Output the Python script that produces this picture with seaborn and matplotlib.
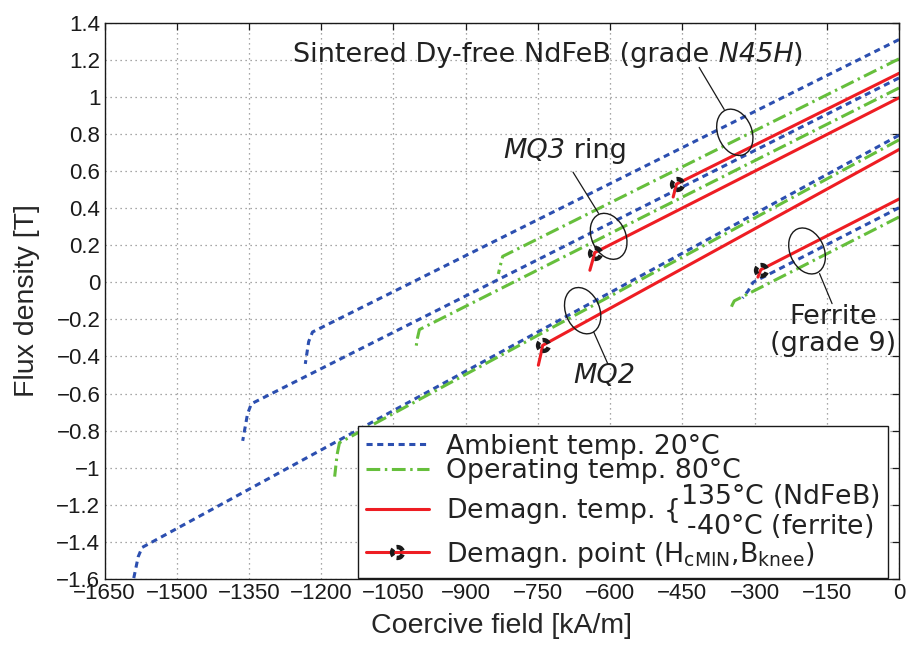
import numpy as np
import pandas as pd
import matplotlib
matplotlib.use("Agg")
import matplotlib.pyplot as plt
import matplotlib.transforms as mtransforms
from matplotlib.path import Path
from matplotlib.patches import Ellipse
from matplotlib.lines import Line2D
from matplotlib.ticker import FuncFormatter
import seaborn as sns

# ---- demagnetisation curves: coercive field H [kA/m], flux density B [T] ----
# Sintered Dy-free NdFeB, grade N45H
n45h_amb_H = [0, -1218, -1226, -1233]
n45h_amb_B = [1.309, -0.268, -0.32, -0.44]
n45h_op_H = [0, -823, -828, -832]
n45h_op_B = [1.205, 0.14, 0.09, 0.045]
n45h_dem_H = [0, -462, -465, -469]
n45h_dem_B = [1.127, 0.53, 0.50, 0.46]

# MQ3 ring
mq3_amb_H = [0, -1345, -1353, -1363]
mq3_amb_B = [1.102, -0.655, -0.71, -0.855]
mq3_op_H = [0, -996, -1000, -1004]
mq3_op_B = [1.048, -0.255, -0.30, -0.366]
mq3_dem_H = [0, -632, -636, -642]
mq3_dem_B = [0.995, 0.16, 0.12, 0.065]

# MQ2
mq2_amb_H = [0, -1572, -1580, -1592]
mq2_amb_B = [0.793, -1.43, -1.48, -1.63]
mq2_op_H = [0, -1162, -1167, -1172]
mq2_op_B = [0.768, -0.865, -0.93, -1.048]
mq2_dem_H = [0, -740, -744, -749]
mq2_dem_B = [0.716, -0.34, -0.39, -0.447]

# Ferrite, grade 9
fer_amb_H = [0, -303, -313, -325]
fer_amb_B = [0.402, 0.0, -0.045, -0.085]
fer_op_H = [0, -342, -346, -350]
fer_op_B = [0.352, -0.10, -0.12, -0.145]
fer_dem_H = [0, -287, -290, -293]
fer_dem_B = [0.449, 0.068, 0.048, 0.028]

# demagnetisation points (H_cMIN, B_knee)
knee_H = [-462, -632, -740, -287]
knee_B = [0.53, 0.16, -0.34, 0.068]

conditions = ["Ambient", "Operating", "Demagn"]
legend_labels = [
    "Ambient temp. 20°C",
    "Operating temp. 80°C",
    r"Demagn. temp. {$\genfrac{}{}{0}{0}{\text{135°C (NdFeB)}}{\text{-40°C (ferrite)}}$",
    r"Demagn. point (H$_{\mathrm{cMIN}}$,B$_{\mathrm{knee}}$)",
]
x_ticks = list(range(-1650, 1, 150))
y_ticks = [-1.6, -1.4, -1.2, -1.0, -0.8, -0.6, -0.4, -0.2, 0.0,
           0.2, 0.4, 0.6, 0.8, 1.0, 1.2, 1.4]

curves = [
    ("N45H", "Ambient", n45h_amb_H, n45h_amb_B),
    ("N45H", "Operating", n45h_op_H, n45h_op_B),
    ("N45H", "Demagn", n45h_dem_H, n45h_dem_B),
    ("MQ3", "Ambient", mq3_amb_H, mq3_amb_B),
    ("MQ3", "Operating", mq3_op_H, mq3_op_B),
    ("MQ3", "Demagn", mq3_dem_H, mq3_dem_B),
    ("MQ2", "Ambient", mq2_amb_H, mq2_amb_B),
    ("MQ2", "Operating", mq2_op_H, mq2_op_B),
    ("MQ2", "Demagn", mq2_dem_H, mq2_dem_B),
    ("Ferrite", "Ambient", fer_amb_H, fer_amb_B),
    ("Ferrite", "Operating", fer_op_H, fer_op_B),
    ("Ferrite", "Demagn", fer_dem_H, fer_dem_B),
]
rows = []
for mat, cond, hs, bs in curves:
    for h, b in zip(hs, bs):
        rows.append({"material": mat, "condition": cond, "H": h, "B": b,
                     "curve": mat + "-" + cond})
df = pd.DataFrame(rows)

BLUE = "#2c4fb0"
GREEN = "#66bf3c"
RED = "#ee1d23"
TXT = "#222222"
palette = {"Ambient": BLUE, "Operating": GREEN, "Demagn": RED}
dashes = {"Ambient": (2.0, 1.5), "Operating": (4.5, 1.5, 0.8, 1.5), "Demagn": ""}
LW = 2.2

sns.set_theme(style="white")
plt.rcParams["font.family"] = ["DejaVu Sans"]
plt.rcParams["mathtext.fontset"] = "dejavusans"

fig = plt.figure(figsize=(9.11, 6.45), dpi=100)
ax = fig.add_axes([104.5 / 911, 66 / 645, 794.5 / 911, 556.3 / 645])

sns.lineplot(data=df, x="H", y="B", hue="condition", style="condition",
             units="curve", estimator=None, sort=False,
             hue_order=conditions, style_order=conditions,
             palette=palette, dashes=dashes, linewidth=LW,
             legend=False, ax=ax)

# ring marker split into three arcs
arcs = [Path.arc(c - 40, c + 40) for c in (180, 60, -60)]
ring = Path.make_compound_path(*arcs)
ax.plot(knee_H, knee_B, ls="none", marker=ring, ms=8, mfc="none",
        mec="k", mew=3.2, zorder=5)

ax.set_xlim(-1650, 0)
ax.set_ylim(-1.6, 1.4)
ax.set_xticks(x_ticks)
ax.set_yticks(y_ticks)


def fmt(v, _):
    v = round(v, 6)
    if v == 0:
        v = 0.0
    return f"{v:g}".replace("-", "\u2212")


ax.xaxis.set_major_formatter(FuncFormatter(fmt))
ax.yaxis.set_major_formatter(FuncFormatter(fmt))
ax.tick_params(direction="in", top=True, right=True, length=5, width=0.9,
               labelsize=16, pad=3, colors="k")
for lab in ax.get_xticklabels() + ax.get_yticklabels():
    lab.set_fontfamily("Liberation Sans")
ax.grid(True, linestyle=(0, (1, 3)), linewidth=0.9, color="#8a8a8a")
for sp in ax.spines.values():
    sp.set_color("k")
    sp.set_linewidth(1.0)

ax.set_xlabel("Coercive field [kA/m]", fontsize=20.5, family="Liberation Sans")
ax.set_ylabel("Flux density [T]", fontsize=20.5, family="Liberation Sans")
ax.xaxis.set_label_coords(0.5, -0.0845)
ax.xaxis.label.set_va("center")
ax.yaxis.set_label_coords(-0.0975, 0.5)
ax.yaxis.label.set_va("center")


# grouping ellipses with leader lines
def group_ring(xc, yc, w_px, h_px, ang):
    tr = fig.dpi_scale_trans + mtransforms.ScaledTranslation(xc, yc, ax.transData)
    ax.add_patch(Ellipse((0, 0), w_px / 100, h_px / 100, angle=ang,
                         transform=tr, fill=False, ec="k", lw=1.0, zorder=6))


group_ring(-341, 0.809, 34, 48, 22)
group_ring(-603, 0.248, 34, 48, 24)
group_ring(-191, 0.169, 34, 48, 24)
group_ring(-657, -0.153, 34, 48, 22)

leaders = [((-363, -415), (0.932, 1.159)),
           ((-624, -677), (0.372, 0.594)),
           ((-165, -139), (0.047, -0.115)),
           ((-634, -605), (-0.268, -0.438))]
for xs, ys in leaders:
    ax.plot(xs, ys, color="k", lw=0.9, zorder=6)

TFS = 19.5


def run_text(x, y, pieces):
    """Write consecutive text pieces on one baseline, each with its own style."""
    prev = None
    for s, style in pieces:
        if prev is None:
            prev = ax.text(x, y, s, fontsize=TFS, style=style, color=TXT,
                           ha="left", va="baseline")
        else:
            prev = ax.annotate(s, xy=(1, 0), xycoords=prev, fontsize=TFS,
                               style=style, color=TXT, ha="left", va="bottom")


run_text(-1258, 1.186, [("Sintered Dy-free NdFeB (grade", "normal"),
                        (" N45H", "italic"), (")", "normal")])
run_text(-822, 0.673, [("MQ3", "italic"), (" ring", "normal")])
ax.text(-612, -0.506, "MQ2", fontsize=TFS, style="italic", ha="center",
        va="center", color=TXT)
ax.text(-136, -0.258, "Ferrite\n(grade 9)", fontsize=TFS, ha="center",
        va="center", color=TXT, linespacing=1.05)

handles = [
    Line2D([], [], color=BLUE, lw=LW, dashes=dashes["Ambient"]),
    Line2D([], [], color=GREEN, lw=LW, dashes=dashes["Operating"]),
    Line2D([], [], color=RED, lw=LW),
    Line2D([], [], color=RED, lw=LW, marker=ring, ms=8, mfc="none",
           mec="k", mew=3.2),
]
leg = ax.legend(handles, legend_labels, loc="upper left",
                bbox_to_anchor=(0.319, 0.2755), borderaxespad=0,
                fontsize=19.3, frameon=True, fancybox=False, edgecolor="k",
                framealpha=1, handlelength=2.35, handletextpad=0.65,
                labelspacing=-0.06, borderpad=0.3, numpoints=1)
leg.get_frame().set_linewidth(1.0)
for t in leg.get_texts():
    t.set_color(TXT)

fig.savefig("out.png", dpi=100)
